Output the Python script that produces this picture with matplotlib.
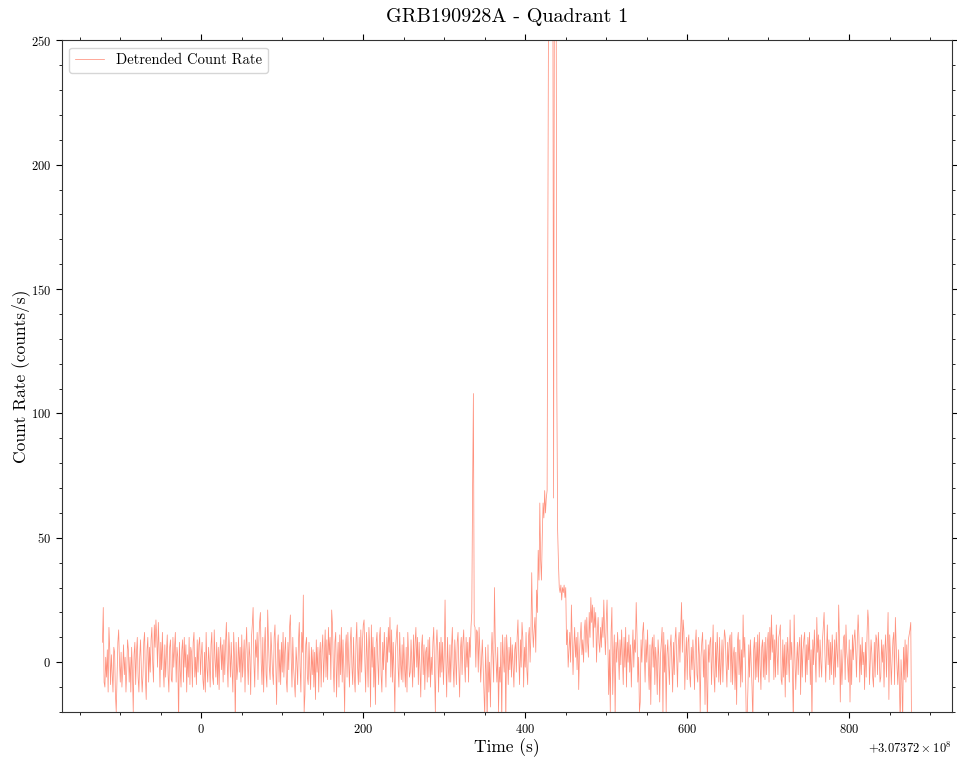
import numpy as np
import matplotlib
matplotlib.use("Agg")
import matplotlib.pyplot as plt

# time grid: 1 s bins, relative to the offset shown on the axis
t_offset = 307372000.0
t_first = -122
bin_size = 1.0

# detrended count rate (counts/s)
rate_pre = [
    8, 22, -8, -10, 2, -6, 5, -12, 14, 5,
    -9, 3, -5, -12, 6, 4, -13, -20, -6, 8,
    13, 0, -8, 4, -10, -3, 7, -5, 2, -12,
    -3, 9, 5, -8, 2, -12, 6, -4, -20, 3,
    8, -9, 4, 10, -6, -12, 2, 9, -3, -12,
    -5, 8, 12, -6, -15, 5, 10, -8, 6, -4,
    9, 14, 0, -8, 15, 6, 17, 10, -2, 16,
    5, -10, 8, -3, 12, -2, -10, 7, -6, 4,
    11, -5, -12, 6, 9, -7, -8, 10, -2, 6,
    12, -8, 6, 2, -25, 8, -3, -10, 5, 9,
    -8, 10, -2, 7, -12, 3, -6, 10, -9, 6,
    4, -10, 8, 12, -6, 2, -9, 9, -4, 7,
    10, -5, 3, 8, -7, -11, 4, -12, 12, -2,
    -8, 6, 0, -10, 7, 12, -6, -9, 13, 1,
    -6, 8, -9, 6, -11, 4, 10, -3, 7, -8,
    9, -5, 8, 16, 0, -10, 12, 4, -6, 8,
    -3, -12, 12, 2, -25, 8, -7, -2, 10, -4,
    6, -8, 11, -6, 2, 9, -12, 5, 14, 0,
    -9, 8, 2, -13, 10, 15, 22, 0, -10, 9,
    2, 12, -7, 8, 16, 20, 0, -9, 10, -12,
    6, 14, -5, -10, 21, 8, -2, -7, 12, 4,
    -4, -9, 10, 15, -2, -17, 6, 11, -8, 5,
    -9, 8, -4, 12, -6, 4, 10, -7, -12, 8,
    -3, 14, 19, 2, -10, 10, -2, -8, -14, 6,
    0, -9, 8, 16, -2, -12, 12, 4, 27, -20,
    -13, 7, 10, -6, -9, 8, -3, -11, 6, -5,
    5, -10, 4, -15, 9, -4, 6, -12, 3, 8,
    -10, 5, 11, -8, 2, 13, -6, 9, -7, 14,
    3, 10, -7, 21, 15, -2, -12, 8, 12, -14,
    0, 8, -10, 11, -5, 14, -8, 9, -3, -20,
    6, 11, -6, 12, 0, -10, 8, 14, -2, -9,
    10, -6, -12, 8, 16, -2, -9, 10, -8, 13,
    -4, 8, 15, 17, 0, -12, 12, 2, -10, 14,
    5, -18, 15, -2, 10, -10, 6, -17, 8, 12,
    0, -9, 10, 14, -5, -12, 8, -3, 12, 2,
    -10, 10, 0, 14, 4, 18, -6, 13, -8, 8,
    -4, -20, 6, 11, 15, -2, -10, 12, 0, -7,
    7, -8, 10, -2, -10, 6, -12, 12, 3, -6,
    -4, 9, 0, -10, 11, -6, 8, 14, -2, 10,
    -9, 8, -2, -14, 6, 11, -5, 7, -11, 4,
    6, -8, 9, -6, 10, -10, 2, -5, 8, 14,
    -2, -20, 6, 13, 4, -12, 8, -6, 10, -4,
    8, -9, 3, 25, 0, -14, 10, -2, -8, 7,
    -8, 6, 14, -2, -10, 9, 2, -9, 8, 12,
    -2, -14, 5, 10, -5, 8, 13, 0, -8, 10,
]

rate_burst = [
    -2, 8, -8, 10, 2, 14, 20, 70, 108, 15,
    14, -2, 13, 12, -4, 14, 4, -8, 0, 9,
    -1, -10, -22, 6, -5, -25, 7, -12, 0, -18,
    2, 12, 3, -8, 30, 8, 0, -8, 6, -20,
    -2, -8, 8, -25, 11, 2, -4, 10, -25, 11,
    4, -9, 6, -3, 10, -6, 7, -1, -10, 5,
    8, -4, 10, 17, 2, -9, 9, -2, 16, 10,
    -10, 6, -2, 12, -3, -9, 10, 14, 0, 11,
    36, 14, 6, 13, 18, 4, 29, 20, 45, 33,
    64, 41, 33, 50, 64, 58, 69, 60, 66, 69,
    190, 290, 360, 410, 380, 330, 300, 66, 280, 340,
    310, 110, 53, 40, 30, 28, 31, 25, 30, 28,
    31, 26, 30, 7, 13, -2, 5, 12, 0, 23,
    8, -5, 6, 14, 2, 10, -3, 12, -11, 4,
    10, 16, 3, 9, 0, 13, 17, 4, 18, 8,
]

rate_post = [
    2, 20, 10, 26, 16, 23, 6, 22, 14, 20,
    0, 12, 18, 8, 4, 14, 6, 18, 10, 25,
    12, 3, 16, 25, 8, -13, 5, -20, 12, 22,
    -13, 2, 11, -22, 8, 0, 12, 4, -7, 9,
    -1, 13, 2, -9, 10, -2, 14, -10, 8, 0,
    11, -4, 7, -10, 3, 13, -2, 9, 4, 24,
    11, -8, 2, -20, -16, 9, 0, 12, 16, 4,
    -8, 9, 0, 13, -2, -11, 7, -17, 5, 10,
    -2, 11, -9, 6, 0, -13, 9, 2, -16, 3,
    8, 14, -22, 12, -4, 7, -20, 3, 9, -1,
    -9, 6, 11, 0, -12, 8, -5, 9, 14, 2,
    -10, 7, 12, 0, 14, 24, 4, 17, 12, -11,
    2, 10, -7, 8, 11, -5, -10, 6, -3, 9,
    1, -11, 7, 13, -5, -8, 10, 3, -20, 2,
    8, 12, -6, 5, -17, 9, -6, -25, 7, 0,
    8, 10, -9, 3, 15, -5, -12, 8, -6, 12,
    3, -8, 10, -9, 0, 9, -8, 5, 13, 10,
    -1, -10, 8, -3, 9, 11, -8, 12, -9, 3,
    6, -11, 4, -17, 8, 12, -5, 9, -10, 5,
    -8, 19, 2, 10, -5, -25, -22, -10, 7, -6,
    9, 0, -10, -25, 5, 10, -7, 8, -6, 11,
    -8, 12, -1, -11, 6, 9, -6, 8, -7, 10,
    -5, 8, 12, -8, 14, 1, 19, 4, 11, -7,
    9, -6, 15, 4, -5, 10, 12, 15, -7, -9,
    9, -6, 7, -14, 8, -5, 10, 2, -8, 17,
    1, 8, -5, -25, 19, 2, -11, 0, 8, -5,
    6, 10, -13, 11, -6, 5, 9, 12, -8, 7,
    -5, 10, 1, 12, -9, 5, -25, 9, -1, 13,
    3, -8, 18, 4, 11, -6, 9, 0, -6, 9,
    14, 20, 4, -8, 5, 15, -1, 9, -7, 8,
    -5, 11, 2, -9, 9, -6, 12, 4, -2, 23,
    9, -16, 5, -9, 1, 10, 11, -7, 15, 4,
    0, -8, 9, -16, 5, -9, 11, 1, 9, 13,
    5, -6, 9, 19, 10, -8, 7, -5, 10, -1,
    4, -11, 8, -6, 11, 21, 16, -9, 0, 9,
    3, -6, -10, 8, -6, 11, 9, -5, 12, 4,
    -8, -6, 9, 0, 7, -10, 5, 11, -6, 7,
    20, -15, 11, 2, -9, 1, 9, 12, -9, 18,
    7, -2, -9, 5, -11, -25, 1, -7, -25, 6,
    -7, 9, -8, 7, -6, 9, 11, 13, 16, -28,
]

rate = np.array(rate_pre + rate_burst + rate_post, dtype=float)
time = t_offset + t_first + np.arange(len(rate)) * bin_size

plt.rcParams.update({
    "font.family": "serif",
    "font.serif": ["cmr10"],
    "mathtext.fontset": "cm",
    "axes.formatter.use_mathtext": True,
    "axes.unicode_minus": False,
    "xtick.top": True,
    "ytick.right": True,
    "xtick.minor.visible": True,
    "ytick.minor.visible": True,
    "xtick.major.size": 4.3,
    "ytick.major.size": 4.3,
    "xtick.minor.size": 2.0,
    "ytick.minor.size": 2.0,
    "xtick.labelsize": 9,
    "ytick.labelsize": 9,
    "axes.linewidth": 0.8,
    "axes.edgecolor": "#333333",
})

fig = plt.figure(figsize=(9.57, 7.6), dpi=100)
ax = fig.add_axes([0.0648, 0.0632, 0.93, 0.8838])

ax.plot(time, rate, color="tomato", alpha=0.7, lw=0.55, label="Detrended Count Rate")

ax.set_ylim(-20, 250)
ax.set_yticks([0, 50, 100, 150, 200, 250])
ax.set_xlabel("Time (s)", fontsize=12.5, labelpad=2)
ax.set_ylabel("Count Rate (counts/s)", fontsize=12.5, labelpad=1)
ax.set_title("GRB190928A - Quadrant 1", fontsize=14.5, pad=13)
ax.legend(loc="upper left", fontsize=10.5, framealpha=0.8, edgecolor="#cccccc")

fig.savefig("out.png", dpi=100)
